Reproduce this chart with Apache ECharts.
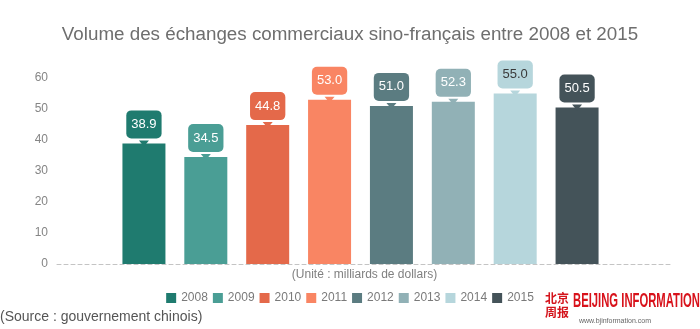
<!DOCTYPE html>
<html>
<head>
<meta charset="utf-8">
<script src="https://cdn.jsdelivr.net/npm/echarts@6/dist/echarts.min.js"></script>
<style>
  html, body { margin: 0; padding: 0; background: #fff; }
  #chart { width: 700px; height: 329px; }
</style>
</head>
<body>
<div id="chart"></div>
<script>
// Sino-French trade volume, billions of dollars
const years = ['2008', '2009', '2010', '2011', '2012', '2013', '2014', '2015'];
const volumes = [38.9, 34.5, 44.8, 53.0, 51.0, 52.3, 55.0, 50.5];
const yearColors = ['#1f7b6f', '#4a9e95', '#e4694a', '#f98563', '#5b7c81', '#91b1b6', '#b6d6dc', '#445359'];
const labelTextColors = ['#fff', '#fff', '#fff', '#fff', '#fff', '#fff', '#3a3a3a', '#fff'];
const yTicks = { min: 0, max: 60, interval: 10 };

const FONT = 'Liberation Sans, Arial, sans-serif';
const chart = echarts.init(document.getElementById('chart'), null, { renderer: 'canvas' });

// squeeze the masthead wordmark into its condensed width
const brandText = 'BEIJING INFORMATION';
const brandFont = 'bold 21px ' + FONT;
const measureCtx = document.createElement('canvas').getContext('2d');
measureCtx.font = brandFont;
const brandScale = 127 / measureCtx.measureText(brandText).width;

// one series per year so each gets its own legend entry
const barSeries = years.map((y, i) => ({
  name: y,
  type: 'bar',
  xAxisIndex: 1,
  yAxisIndex: 1,
  stack: 'all',
  barWidth: 43,
  data: years.map((_, j) => (j === i ? volumes[i] : null)),
  itemStyle: { color: yearColors[i] },
  label: {
    show: true,
    position: 'top',
    distance: 5,
    formatter: p => p.value.toFixed(1),
    color: labelTextColors[i],
    backgroundColor: yearColors[i],
    borderRadius: 5,
    padding: [7, 5, 7, 5],
    lineHeight: 14,
    fontSize: 13,
    fontFamily: FONT
  }
}));

// small downward pointers under each value bubble
const pointerSeries = {
  name: 'pointer',
  type: 'pictorialBar',
  xAxisIndex: 1,
  yAxisIndex: 1,
  symbol: 'triangle',
  symbolRotate: 180,
  symbolSize: [10, 6],
  symbolPosition: 'end',
  symbolOffset: [0, '-50%'],
  z: 5,
  silent: true,
  data: volumes.map((v, i) => ({ value: v, itemStyle: { color: yearColors[i] } }))
};

chart.setOption({
  animation: false,
  backgroundColor: '#fff',
  title: {
    text: 'Volume des échanges commerciaux sino-français entre 2008 et 2015',
    left: 'center',
    top: 20,
    textStyle: { color: '#6e6e6e', fontSize: 18.8, fontWeight: 'normal', fontFamily: FONT }
  },
  legend: {
    data: years,
    left: 'center',
    top: 287,
    icon: 'rect',
    itemWidth: 10,
    itemHeight: 10,
    itemGap: 5,
    textStyle: { color: '#7a7a7a', fontSize: 12, fontFamily: FONT }
  },
  grid: [
    { left: 57, right: 28, top: 78, bottom: 65 },
    { left: 113, right: 92, top: 78, bottom: 65 }
  ],
  xAxis: [
    {
      gridIndex: 0,
      type: 'category',
      data: [''],
      axisLine: { show: true, lineStyle: { color: '#c4c4c4', type: [4, 3], width: 1 } },
      axisTick: { show: false },
      axisLabel: { show: false },
      name: '(Unité : milliards de dollars)',
      nameLocation: 'middle',
      nameGap: 5,
      nameTextStyle: { color: '#808080', fontSize: 12, fontFamily: FONT, verticalAlign: 'top' }
    },
    {
      gridIndex: 1,
      type: 'category',
      data: years,
      show: false
    }
  ],
  yAxis: [
    {
      gridIndex: 0,
      type: 'value',
      min: yTicks.min,
      max: yTicks.max,
      interval: yTicks.interval,
      axisLine: { show: false },
      axisTick: { show: false },
      splitLine: { show: false },
      axisLabel: { color: '#858585', fontSize: 12, margin: 9, fontFamily: FONT }
    },
    {
      gridIndex: 1,
      type: 'value',
      min: yTicks.min,
      max: yTicks.max,
      interval: yTicks.interval,
      show: false,
      splitLine: { show: false }
    }
  ],
  series: barSeries.concat([pointerSeries]),
  graphic: [
    {
      type: 'text',
      left: 0,
      top: 310,
      style: { text: '(Source : gouvernement chinois)', fill: '#555', font: '14px ' + FONT }
    },
    {
      type: 'text',
      left: 545,
      top: 292,
      style: { text: '北京', fill: '#d4141c', font: 'bold 12px "Noto Sans CJK SC"' }
    },
    {
      type: 'text',
      left: 545,
      top: 306,
      style: { text: '周报', fill: '#d4141c', font: 'bold 12px "Noto Sans CJK SC"' }
    },
    {
      type: 'text',
      x: 573,
      y: 291,
      scaleX: brandScale,
      style: { text: brandText, fill: '#d8121b', font: brandFont, textVerticalAlign: 'top' }
    },
    {
      type: 'text',
      left: 579,
      top: 318,
      style: { text: 'www.bjinformation.com', fill: '#666', font: '7px ' + FONT }
    }
  ]
});
</script>
</body>
</html>
